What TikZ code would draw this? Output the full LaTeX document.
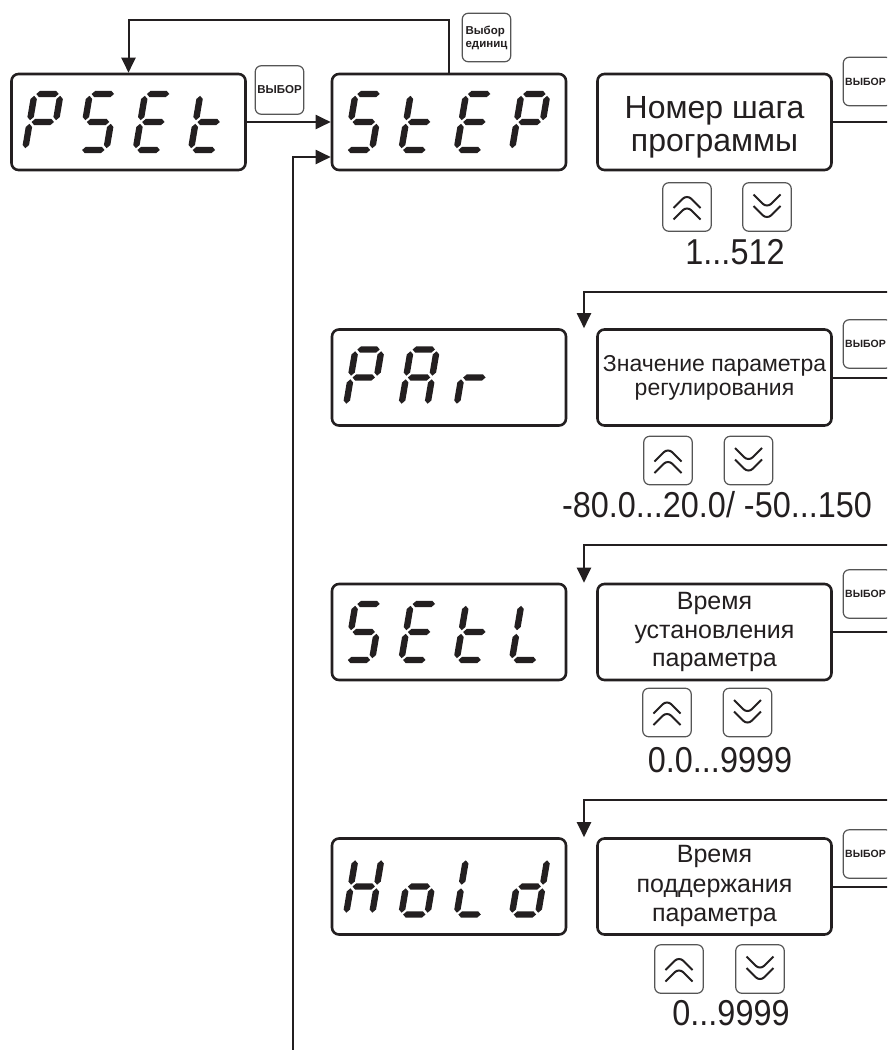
\documentclass[tikz,border=0pt]{standalone}
\usepackage{fontspec}
\setmainfont{Liberation Sans}
\newfontfamily\narrowfont[FakeStretch=0.9]{Liberation Sans}
\usetikzlibrary{arrows.meta}
\definecolor{ink}{HTML}{231F20}
\definecolor{btngray}{HTML}{555555}
% seven-segment geometry
\newcommand\sgth{3.2}
\newcommand\dgW{26}
\newcommand\dgH{56}
\newcommand\dgG{1.8}
\newcommand\hseg[3]{\fill[ink] (#1,#3) -- (#1+\sgth,#3-\sgth) -- (#2-\sgth,#3-\sgth) -- (#2,#3) -- (#2-\sgth,#3+\sgth) -- (#1+\sgth,#3+\sgth) -- cycle;}
\newcommand\vseg[3]{\fill[ink] (#1,#2) -- (#1+\sgth,#2+\sgth) -- (#1+\sgth,#3-\sgth) -- (#1,#3) -- (#1-\sgth,#3-\sgth) -- (#1-\sgth,#2+\sgth) -- cycle;}
\newcommand\sega{\hseg{\dgG}{\dgW-\dgG}{-\dgH}}
\newcommand\segg{\hseg{\dgG}{\dgW-\dgG}{-\dgH/2}}
\newcommand\segd{\hseg{\dgG}{\dgW-\dgG}{0}}
\newcommand\segf{\vseg{0}{-\dgH+\dgG}{-\dgH/2-\dgG}}
\newcommand\sege{\vseg{0}{-\dgH/2+\dgG}{-\dgG}}
\newcommand\segb{\vseg{\dgW}{-\dgH+\dgG}{-\dgH/2-\dgG}}
\newcommand\segc{\vseg{\dgW}{-\dgH/2+\dgG}{-\dgG}}
\newcommand\sevenseg[3]{%
  \begin{scope}[shift={(#1,#2)},xslant=0.17]
    \foreach \s in {#3}{\csname seg\s\endcsname}
  \end{scope}}
% #1 box left x, #2 box centre y, #3 index, #4 segments
\newcommand\digitat[4]{\sevenseg{#1+15+55.3*#3}{#2+28}{#4}}
\tikzset{
  disp/.style={draw=ink, line width=2.6pt, rounded corners=7pt, minimum width=234pt, minimum height=96pt, inner sep=0pt},
  btn/.style={draw=btngray, line width=1.2pt, rounded corners=6pt, minimum width=48.5pt, minimum height=48.5pt, inner sep=0pt},
  selbtn/.style={btn, font=\fontsize{11.5}{13}\selectfont\bfseries, text=ink},
  seltxt/.style={font=\fontsize{10.5}{12}\selectfont\bfseries, text=ink, inner sep=0pt},
  chev/.style={draw=ink, line width=2pt},
  upbtn/.style={btn, path picture={
      \draw[chev] ([shift={(-13.5,1)}]path picture bounding box.center) -- ++(13.5,-13.5) -- ++(13.5,13.5);
      \draw[chev] ([shift={(-13.5,12.5)}]path picture bounding box.center) -- ++(13.5,-13.5) -- ++(13.5,13.5);}},
  dnbtn/.style={btn, path picture={
      \draw[chev] ([shift={(-13.5,-12.5)}]path picture bounding box.center) -- ++(13.5,13.5) -- ++(13.5,-13.5);
      \draw[chev] ([shift={(-13.5,-1)}]path picture bounding box.center) -- ++(13.5,13.5) -- ++(13.5,-13.5);}},
  arr/.style={draw=ink, line width=2pt, -{Triangle[length=15pt,width=14pt]}},
  wire/.style={draw=ink, line width=2pt},
  rng/.style={font=\narrowfont\fontsize{36}{40}\selectfont, text=ink, anchor=base, inner sep=0pt},
  lbl/.style={text=ink, align=center, inner sep=0pt},
}
\begin{document}
\begin{tikzpicture}[x=1pt,y=-1pt]
\clip (0,0) rectangle (887,1050);
\fill[white] (0,0) rectangle (887,1050);

% display boxes
\node[disp] (pset) at (128.5,122) {};
\node[disp] (step) at (449,122) {};
\node[disp] (num)  at (714.5,122) {};
\node[disp] (par)  at (449,377.5) {};
\node[disp] (parv) at (714.5,377.5) {};
\node[disp] (setl) at (449,632) {};
\node[disp] (setv) at (714.5,632) {};
\node[disp] (hold) at (449,886.5) {};
\node[disp] (holdv) at (714.5,886.5) {};

% seven-segment words
\digitat{10}{122}{0}{a,b,e,f,g}
\digitat{10}{122}{1}{a,f,g,c,d}
\digitat{10}{122}{2}{a,f,g,e,d}
\digitat{10}{122}{3}{f,e,g,d}

\digitat{331}{122}{0}{a,f,g,c,d}
\digitat{331}{122}{1}{f,e,g,d}
\digitat{331}{122}{2}{a,f,g,e,d}
\digitat{331}{122}{3}{a,b,e,f,g}

\digitat{331}{377.5}{0}{a,b,e,f,g}
\digitat{331}{377.5}{1}{a,b,c,e,f,g}
\digitat{331}{377.5}{2}{e,g}

\digitat{331}{632}{0}{a,f,g,c,d}
\digitat{331}{632}{1}{a,f,g,e,d}
\digitat{331}{632}{2}{f,e,g,d}
\digitat{331}{632}{3}{f,e,d}

\digitat{331}{886.5}{0}{b,c,e,f,g}
\digitat{331}{886.5}{1}{c,d,e,g}
\digitat{331}{886.5}{2}{f,e,d}
\digitat{331}{886.5}{3}{b,c,d,e,g}

% box texts
\node[lbl, font=\fontsize{32}{33}\selectfont] (numt) at (714.5,127) {Номер шага\\программы};
\node[lbl, font=\fontsize{23}{23.5}\selectfont] (part) at (714.5,378) {Значение параметра\\регулирования};
\node[lbl, font=\fontsize{25}{28.5}\selectfont] (sett) at (714.5,632.2) {Время\\установления\\параметра};
\node[lbl, font=\fontsize{25}{29.5}\selectfont] (holdt) at (714.5,886) {Время\\поддержания\\параметра};

% select buttons
\node[selbtn] (b0) at (279.5,90) {ВЫБОР};
\node[selbtn, align=left] (bu) at (486.5,37.5) {Выбор\\единиц};
\node[btn] (b1) at (867.5,81.5) {};
\node[btn] (b2) at (867.5,344) {};
\node[btn] (b3) at (867.5,594) {};
\node[btn] (b4) at (867.5,854) {};
\node[seltxt, anchor=west] (b1t) at (845,81.5) {ВЫБОР};
\node[seltxt, anchor=west] (b2t) at (845,344) {ВЫБОР};
\node[seltxt, anchor=west] (b3t) at (845,594) {ВЫБОР};
\node[seltxt, anchor=west] (b4t) at (845,854) {ВЫБОР};

% up/down buttons
\node[upbtn] (u1) at (687,207) {};
\node[dnbtn] (d1) at (767,207) {};
\node[upbtn] (u2) at (668,460.5) {};
\node[dnbtn] (d2) at (748.5,460.5) {};
\node[upbtn] (u3) at (667,712.5) {};
\node[dnbtn] (d3) at (747.5,712.5) {};
\node[upbtn] (u4) at (679,969) {};
\node[dnbtn] (d4) at (760,969) {};

% ranges
\node[rng] (r1) at (735,264) {1...512};
\node[rng] (r2) at (717,517) {-80.0...20.0/ -50...150};
\node[rng] (r3) at (720,772) {0.0...9999};
\node[rng] (r4) at (731,1025) {0...9999};

% connectors
\coordinate (edge) at (895,0);
\coordinate (topy) at (0,20);
\coordinate (vb) at (293,1060);
\coordinate (c2) at (584,292);
\coordinate (c3) at (584,545);
\coordinate (c4) at (584,800);

\draw[arr] (pset.east) -- (step.west);
\draw[arr] (vb) |- ([yshift=-35pt]step.west);
\draw[arr] (step.north) -- (step.north |- topy) -| (pset.north);

\draw[wire] (num.east) -- (num.east -| edge);
\draw[wire] (parv.east) -- (parv.east -| edge);
\draw[wire] (setv.east) -- (setv.east -| edge);
\draw[wire] (holdv.east) -- (holdv.east -| edge);

\draw[arr] (edge |- c2) -- (c2) -- (c2 |- parv.north);
\draw[arr] (edge |- c3) -- (c3) -- (c3 |- setv.north);
\draw[arr] (edge |- c4) -- (c4) -- (c4 |- holdv.north);
\end{tikzpicture}
\end{document}
